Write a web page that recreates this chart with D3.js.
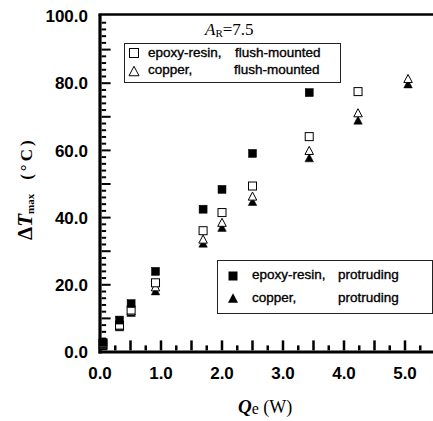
<!DOCTYPE html>
<html>
<head>
<meta charset="utf-8">
<script src="https://cdn.jsdelivr.net/npm/d3@7"></script>
<style>
  html, body { margin: 0; padding: 0; background: #fff; }
  svg { display: block; }
</style>
</head>
<body>
<svg id="chart" width="433" height="421"></svg>
<script>
// Heater power levels (W) shared by all four series
const qe = [0.05, 0.32, 0.51, 0.91, 1.69, 2.0, 2.5, 3.43, 4.23, 5.05];

// Maximum temperature rise (°C) for each configuration
const epoxyProtruding = [2.8, 9.5, 14.4, 24.0, 42.5, 48.4, 59.1, 77.2];
const epoxyFlush      = [2.5, 8.0, 12.5, 20.6, 36.1, 41.5, 49.4, 64.1, 77.5];
const copperFlush     = [2.2, 7.8, 12.2, 19.4, 33.6, 38.6, 46.4, 60.0, 71.2, 81.4];
const copperProtruding= [1.8, 7.5, 11.8, 18.2, 32.4, 37.1, 44.8, 57.8, 69.0, 79.8];

const xTickValues = [0, 1, 2, 3, 4, 5];
const yTickValues = [0, 20, 40, 60, 80, 100];

const svg = d3.select("#chart");

const x = d3.scaleLinear().domain([0, 5.5]).range([100, 435.5]);
const y = d3.scaleLinear().domain([0, 100]).range([352, 16]);

const sans = "'Liberation Sans', Arial, Helvetica, sans-serif";
const serif = "'Liberation Serif', 'Times New Roman', Times, serif";

// frame lines: left, bottom, top
svg.append("path")
  .attr("d", `M${x(0)},${y(100) - 1.5}V${y(0) + 1.5}`)
  .attr("stroke", "#000").attr("stroke-width", 3.2).attr("fill", "none");
svg.append("path")
  .attr("d", `M${x(0) - 1.5},${y(0)}H433`)
  .attr("stroke", "#000").attr("stroke-width", 3.2).attr("fill", "none");
svg.append("path")
  .attr("d", `M${x(0) - 1.5},${y(100) - 1.5}H433`)
  .attr("stroke", "#000").attr("stroke-width", 2.6).attr("fill", "none");

// ---- inward tick marks, drawn as small bars standing on the axes ----
const xMinor = d3.range(1, 23).map(i => i * 0.25);
const yMinor = d3.range(1, 50).map(i => i * 2);
const xTickLen = d => (Math.round(d * 4) % 2 === 0 ? 10 : 5);
const yTickLen = d => (Math.round(d) % 10 === 0 ? 9 : 4.5);

svg.append("g").selectAll("rect").data(xMinor).join("rect")
  .attr("x", d => x(d) - 1.25)
  .attr("y", d => y(0) - 1.6 - xTickLen(d))
  .attr("width", 2.5)
  .attr("height", d => xTickLen(d))
  .attr("fill", "#000");

svg.append("g").selectAll("rect").data(yMinor).join("rect")
  .attr("x", x(0) + 1.6)
  .attr("y", d => y(d) - 1)
  .attr("width", d => yTickLen(d))
  .attr("height", 2)
  .attr("fill", "#000");

// tick labels
svg.append("g").selectAll("text").data(xTickValues).join("text")
  .attr("x", d => x(d)).attr("y", 379)
  .attr("text-anchor", "middle")
  .attr("font-family", sans).attr("font-weight", "bold").attr("font-size", 17)
  .text(d => d.toFixed(1));

svg.append("g").selectAll("text").data(yTickValues).join("text")
  .attr("x", 88).attr("y", d => y(d))
  .attr("dy", "0.36em")
  .attr("text-anchor", "end")
  .attr("font-family", sans).attr("font-weight", "bold").attr("font-size", 17)
  .text(d => d.toFixed(1));

// ---- markers ----
const sq = 8;
function triPath(cx, cy, s) {
  const h = s * 0.95;
  return `M${cx},${cy - h / 2}L${cx + s / 2},${cy + h / 2}L${cx - s / 2},${cy + h / 2}Z`;
}
function drawSquares(vals, filled) {
  svg.append("g").selectAll("rect").data(vals).join("rect")
    .attr("x", (d, i) => x(qe[i]) - sq / 2)
    .attr("y", d => y(d) - sq / 2)
    .attr("width", sq).attr("height", sq)
    .attr("fill", filled ? "#000" : "#fff")
    .attr("stroke", "#000").attr("stroke-width", filled ? 0.5 : 1);
}
function drawTriangles(vals, filled) {
  svg.append("g").selectAll("path").data(vals).join("path")
    .attr("d", (d, i) => triPath(x(qe[i]), y(d), 8.5))
    .attr("fill", filled ? "#000" : "#fff")
    .attr("stroke", "#000").attr("stroke-width", filled ? 0.5 : 1);
}
drawTriangles(copperProtruding, true);
drawTriangles(copperFlush, false);
drawSquares(epoxyFlush, false);
drawSquares(epoxyProtruding, true);

// ---- aspect ratio note ----
const ar = svg.append("text").attr("x", 205).attr("y", 35)
  .attr("font-family", serif).attr("font-size", 17);
ar.append("tspan").attr("font-style", "italic").text("A");
ar.append("tspan").attr("font-size", 11).attr("dy", 2).text("R");
ar.append("tspan").attr("dy", -2).text("=7.5");

// ---- legends ----
function legendBox(x0, y0, x1, y1) {
  svg.append("rect").attr("x", x0 + 0.5).attr("y", y0 + 0.5)
    .attr("width", x1 - x0).attr("height", y1 - y0)
    .attr("fill", "#fff").attr("stroke", "#222").attr("stroke-width", 1);
}
function legendText(lx, ly, str) {
  svg.append("text").attr("x", lx).attr("y", ly)
    .attr("font-family", sans).attr("font-size", 13.5)
    .attr("stroke", "#000").attr("stroke-width", 0.35)
    .text(str);
}

legendBox(124, 43, 340, 82);
svg.append("rect").attr("x", 134 - 4.5).attr("y", 53 - 4.5).attr("width", 9).attr("height", 9)
  .attr("fill", "#fff").attr("stroke", "#000").attr("stroke-width", 1);
svg.append("path").attr("d", triPath(134, 71, 10)).attr("fill", "#fff").attr("stroke", "#000").attr("stroke-width", 1);
legendText(148, 57, "epoxy-resin,");
legendText(235, 57, "flush-mounted");
legendText(148, 74, "copper,");
legendText(234, 74, "flush-mounted");

legendBox(217, 260, 432, 313);
svg.append("rect").attr("x", 233 - 4.5).attr("y", 276 - 4.5).attr("width", 9).attr("height", 9)
  .attr("fill", "#000");
svg.append("path").attr("d", triPath(233, 298, 10)).attr("fill", "#000");
legendText(252, 279, "epoxy-resin,");
legendText(338, 279, "protruding");
legendText(252, 302, "copper,");
legendText(338, 302, "protruding");

// ---- axis titles ----
const xt = svg.append("text").attr("x", 238).attr("y", 413)
  .attr("font-family", serif).attr("font-size", 19);
xt.append("tspan").attr("font-style", "italic").attr("font-weight", "bold").text("Q");
xt.append("tspan").attr("font-size", 16).attr("dy", 1).text("e");
xt.append("tspan").attr("dy", -1).attr("font-size", 18).text("\u00a0(W)");

const yt = svg.append("text")
  .attr("transform", "translate(32,240) rotate(-90)")
  .attr("font-family", serif).attr("font-size", 21).attr("font-weight", "bold");
yt.append("tspan").text("\u0394");
yt.append("tspan").attr("font-style", "italic").text("T");
yt.append("tspan").attr("font-size", 11).attr("dy", 2).text("max");
yt.append("tspan").attr("dy", -2).attr("font-size", 17).attr("dx", 14).attr("letter-spacing", 3).text("(\u00b0C)");
</script>
</body>
</html>
